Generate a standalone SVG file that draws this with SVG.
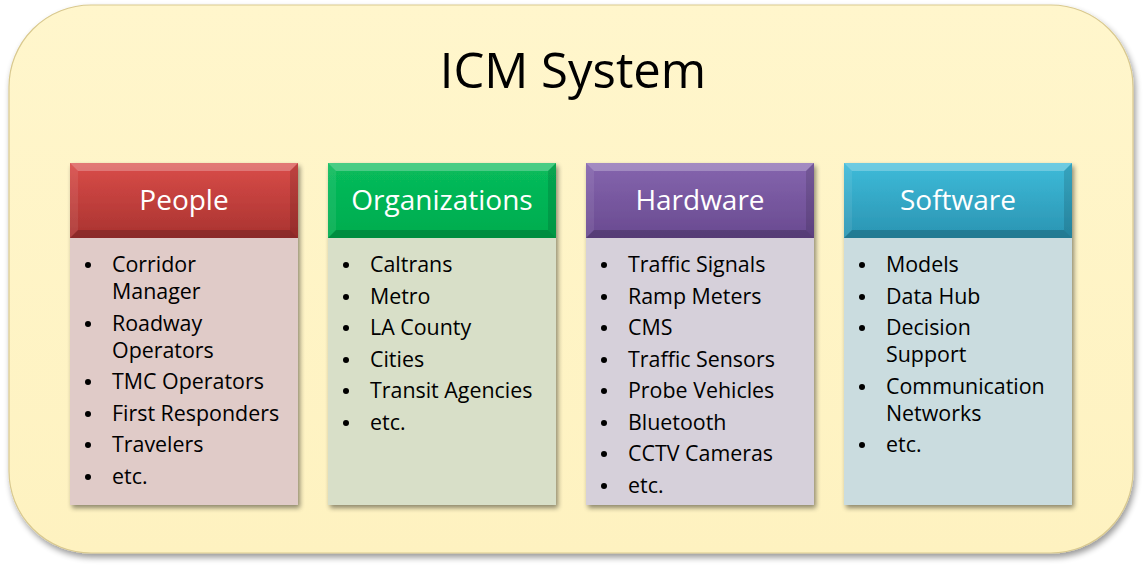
<svg xmlns="http://www.w3.org/2000/svg" width="1143" height="568" viewBox="0 0 1143 568">
<style>
.title{font-family:"Open Sans","Liberation Sans",sans-serif;font-size:49px;fill:#000;text-anchor:middle}
.hd{font-family:"Open Sans","Liberation Sans",sans-serif;font-size:28px;fill:#fff;text-anchor:middle}
.it{font-family:"Open Sans","Liberation Sans",sans-serif;font-size:21.4px;fill:#000}
.bl{fill:#000}
.bev-t{fill:#fff;opacity:0.25}
.bev-l{fill:#fff;opacity:0.08}
.bev-r{fill:#000;opacity:0.12}
.bev-b{fill:#000;opacity:0.18}
</style>
<defs>
<filter id="sh" x="-10%" y="-10%" width="130%" height="130%">
<feGaussianBlur in="SourceAlpha" stdDeviation="2.5"/>
<feOffset dx="2" dy="3" result="b"/>
<feComponentTransfer><feFuncA type="linear" slope="0.45"/></feComponentTransfer>
<feMerge><feMergeNode/><feMergeNode in="SourceGraphic"/></feMerge>
</filter>
<filter id="sh2" x="-5%" y="-5%" width="110%" height="115%">
<feGaussianBlur in="SourceAlpha" stdDeviation="3"/>
<feOffset dx="2" dy="4" result="b"/>
<feComponentTransfer><feFuncA type="linear" slope="0.4"/></feComponentTransfer>
<feMerge><feMergeNode/><feMergeNode in="SourceGraphic"/></feMerge>
</filter>
<linearGradient id="gP" x1="0" y1="0" x2="0" y2="1"><stop offset="0" stop-color="#d94c49"/><stop offset="1" stop-color="#a93330"/></linearGradient>
<linearGradient id="gO" x1="0" y1="0" x2="0" y2="1"><stop offset="0" stop-color="#08bc5c"/><stop offset="1" stop-color="#00ac4e"/></linearGradient>
<linearGradient id="gH" x1="0" y1="0" x2="0" y2="1"><stop offset="0" stop-color="#8565ae"/><stop offset="1" stop-color="#694a90"/></linearGradient>
<linearGradient id="gS" x1="0" y1="0" x2="0" y2="1"><stop offset="0" stop-color="#3ebbd9"/><stop offset="1" stop-color="#2a94b2"/></linearGradient>
<linearGradient id="gBg" x1="0" y1="0" x2="0" y2="1"><stop offset="0" stop-color="#fff6cc"/><stop offset="1" stop-color="#fef2c0"/></linearGradient>
</defs>

<g id="system">
<rect x="9" y="5" width="1124" height="548" rx="82" ry="82" fill="url(#gBg)" stroke="#d9c98f" stroke-width="1.2" filter="url(#sh2)"/>
<text class="title" x="573" y="88">ICM System</text>
</g>

<g id="people">
<g filter="url(#sh)">
<rect x="70" y="238" width="228" height="267" fill="#e0cbc8"/>
<rect x="70" y="163" width="228" height="75" fill="url(#gP)"/>
</g>
<polygon class="bev-t" points="70,163 298,163 290,171 78,171"/>
<polygon class="bev-l" points="70,163 78,171 78,230 70,238"/>
<polygon class="bev-r" points="298,163 298,238 290,230 290,171"/>
<polygon class="bev-b" points="70,238 298,238 290,230 78,230"/>
<text class="hd" x="184" y="210">People</text>
<g class="it">
<circle class="bl" cx="88" cy="265" r="3"/><text x="112" y="272">Corridor</text><text x="112" y="299">Manager</text>
<circle class="bl" cx="88" cy="324" r="3"/><text x="112" y="331">Roadway</text><text x="112" y="358">Operators</text>
<circle class="bl" cx="88" cy="382" r="3"/><text x="112" y="389">TMC Operators</text>
<circle class="bl" cx="88" cy="414" r="3"/><text x="112" y="421">First Responders</text>
<circle class="bl" cx="88" cy="445" r="3"/><text x="112" y="452">Travelers</text>
<circle class="bl" cx="88" cy="477" r="3"/><text x="112" y="484">etc.</text>
</g>
</g>

<g id="organizations">
<g filter="url(#sh)">
<rect x="328" y="238" width="228" height="267" fill="#d8dfc8"/>
<rect x="328" y="163" width="228" height="75" fill="url(#gO)"/>
</g>
<polygon class="bev-t" points="328,163 556,163 548,171 336,171"/>
<polygon class="bev-l" points="328,163 336,171 336,230 328,238"/>
<polygon class="bev-r" points="556,163 556,238 548,230 548,171"/>
<polygon class="bev-b" points="328,238 556,238 548,230 336,230"/>
<text class="hd" x="442" y="210">Organizations</text>
<g class="it">
<circle class="bl" cx="346" cy="265" r="3"/><text x="370" y="272">Caltrans</text>
<circle class="bl" cx="346" cy="297" r="3"/><text x="370" y="304">Metro</text>
<circle class="bl" cx="346" cy="328" r="3"/><text x="370" y="335">LA County</text>
<circle class="bl" cx="346" cy="360" r="3"/><text x="370" y="367">Cities</text>
<circle class="bl" cx="346" cy="391" r="3"/><text x="370" y="398">Transit Agencies</text>
<circle class="bl" cx="346" cy="423" r="3"/><text x="370" y="430">etc.</text>
</g>
</g>

<g id="hardware">
<g filter="url(#sh)">
<rect x="586" y="238" width="228" height="267" fill="#d6d0da"/>
<rect x="586" y="163" width="228" height="75" fill="url(#gH)"/>
</g>
<polygon class="bev-t" points="586,163 814,163 806,171 594,171"/>
<polygon class="bev-l" points="586,163 594,171 594,230 586,238"/>
<polygon class="bev-r" points="814,163 814,238 806,230 806,171"/>
<polygon class="bev-b" points="586,238 814,238 806,230 594,230"/>
<text class="hd" x="700" y="210">Hardware</text>
<g class="it">
<circle class="bl" cx="604" cy="265" r="3"/><text x="628" y="272">Traffic Signals</text>
<circle class="bl" cx="604" cy="297" r="3"/><text x="628" y="304">Ramp Meters</text>
<circle class="bl" cx="604" cy="328" r="3"/><text x="628" y="335">CMS</text>
<circle class="bl" cx="604" cy="360" r="3"/><text x="628" y="367">Traffic Sensors</text>
<circle class="bl" cx="604" cy="391" r="3"/><text x="628" y="398">Probe Vehicles</text>
<circle class="bl" cx="604" cy="423" r="3"/><text x="628" y="430">Bluetooth</text>
<circle class="bl" cx="604" cy="454" r="3"/><text x="628" y="461">CCTV Cameras</text>
<circle class="bl" cx="604" cy="486" r="3"/><text x="628" y="493">etc.</text>
</g>
</g>

<g id="software">
<g filter="url(#sh)">
<rect x="844" y="238" width="228" height="267" fill="#cadcdf"/>
<rect x="844" y="163" width="228" height="75" fill="url(#gS)"/>
</g>
<polygon class="bev-t" points="844,163 1072,163 1064,171 852,171"/>
<polygon class="bev-l" points="844,163 852,171 852,230 844,238"/>
<polygon class="bev-r" points="1072,163 1072,238 1064,230 1064,171"/>
<polygon class="bev-b" points="844,238 1072,238 1064,230 852,230"/>
<text class="hd" x="958" y="210">Software</text>
<g class="it">
<circle class="bl" cx="862" cy="265" r="3"/><text x="886" y="272">Models</text>
<circle class="bl" cx="862" cy="297" r="3"/><text x="886" y="304">Data Hub</text>
<circle class="bl" cx="862" cy="328" r="3"/><text x="886" y="335">Decision</text><text x="886" y="362">Support</text>
<circle class="bl" cx="862" cy="387" r="3"/><text x="886" y="394">Communication</text><text x="886" y="421">Networks</text>
<circle class="bl" cx="862" cy="445" r="3"/><text x="886" y="452">etc.</text>
</g>
</g>

<g id="connectors"/>
</svg>
